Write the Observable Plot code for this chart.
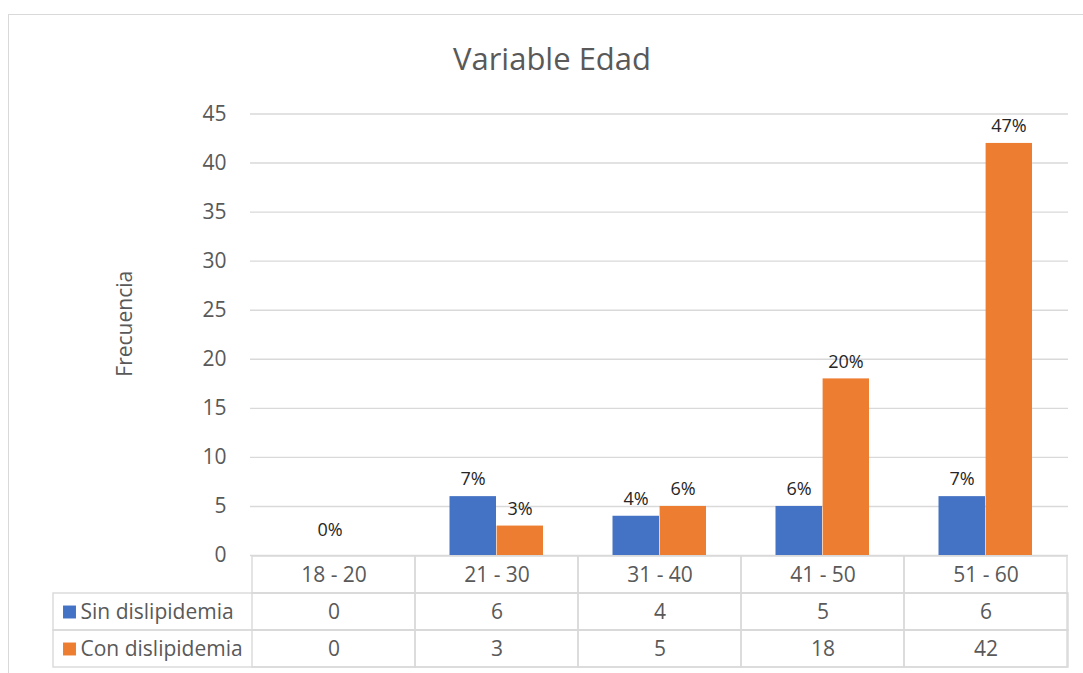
<!DOCTYPE html>
<html><head><meta charset="utf-8">
<script src="https://cdn.jsdelivr.net/npm/d3@7"></script>
<script src="https://cdn.jsdelivr.net/npm/@observablehq/plot@0.6"></script>
<style>
body{margin:0;background:#fff;font-family:"Open Sans",sans-serif;}
#wrap{position:relative;width:1083px;height:673px;overflow:hidden;background:#fff;}
#frame{position:absolute;left:8px;top:14px;width:1110px;height:720px;border:1.5px solid #d9d9d9;box-sizing:border-box;}
#title{position:absolute;left:0;width:1104px;top:38px;text-align:center;font-size:31px;color:#595959;line-height:40px;}
#main,#table{position:absolute;left:0;}
#main{top:0}
#table{top:555px}
</style></head><body>
<div id="wrap"><div id="frame"></div><div id="title">Variable Edad</div><div id="main"></div><div id="table"></div></div>
<script>
const categories = ["18 - 20", "21 - 30", "31 - 40", "41 - 50", "51 - 60"];
const seriesNames = ["Sin dislipidemia", "Con dislipidemia"];
const sinValues = [0, 6, 4, 5, 6];
const conValues = [0, 3, 5, 18, 42];
const sinLabels = ["", "7%", "4%", "6%", "7%"];
const conLabels = ["", "3%", "6%", "20%", "47%"];
const sharedLabels = ["0%", "", "", "", ""];
const yTicks = [0, 5, 10, 15, 20, 25, 30, 35, 40, 45];
const colors = ["#4472C4", "#ED7D31"];

const grey = "#d9d9d9";
const textGrey = "#595959";
const font = "'Open Sans', sans-serif";

const idx = categories.map((c, i) => i);

const main = Plot.plot({
  width: 1083, height: 556,
  marginLeft: 250, marginRight: 15, marginTop: 113.5, marginBottom: 1,
  x: {domain: categories, padding: 0, axis: null},
  y: {domain: [0, 45], axis: null},
  style: {fontFamily: font, fontSize: "21px", color: textGrey, background: "transparent", overflow: "visible"},
  marks: [
    Plot.gridY(yTicks, {stroke: grey, strokeOpacity: 1, strokeWidth: 1.4}),
    Plot.axisY(yTicks, {tickSize: 0, tickPadding: 24, fontSize: 21, fill: textGrey, label: null}),
    Plot.text(["Frecuencia"], {frameAnchor: "left", textAnchor: "middle", dx: -125, dy: -11, rotate: -90, fontSize: 21, fill: textGrey}),
    Plot.barY(idx, {x: i => categories[i], y: i => sinValues[i], fill: colors[0], insetLeft: 34.5, insetRight: 82}),
    Plot.barY(idx, {x: i => categories[i], y: i => conValues[i], fill: colors[1], insetLeft: 81.6, insetRight: 35}),
    Plot.text(idx, {x: i => categories[i], y: i => sinValues[i], text: i => sinLabels[i], dx: -24, dy: -17, fontSize: 18, fill: "#262626"}),
    Plot.text(idx, {x: i => categories[i], y: i => conValues[i], text: i => conLabels[i], dx: 23, dy: -17, fontSize: 18, fill: "#262626"}),
    Plot.text(idx, {x: i => categories[i], y: i => Math.max(sinValues[i], conValues[i]), text: i => sharedLabels[i], dx: -4, dy: -25, fontSize: 18, fill: "#262626"})
  ]
});
document.getElementById("main").appendChild(main);

const rows = ["cat", "sin", "con"];
const legendRows = [{row: "sin", name: seriesNames[0], color: colors[0]}, {row: "con", name: seriesNames[1], color: colors[1]}];
const cells = [];
for (const r of rows) for (const c of categories) cells.push({row: r, cat: c});

const table = Plot.plot({
  width: 1083, height: 114,
  marginLeft: 250, marginRight: 15, marginTop: 0, marginBottom: 1,
  x: {domain: categories, padding: 0, axis: null},
  y: {domain: rows, padding: 0, axis: null},
  style: {fontFamily: font, fontSize: "21px", color: textGrey, background: "transparent", overflow: "visible"},
  marks: [
    Plot.cell(legendRows, {y: "row", stroke: grey, strokeWidth: 1.4, fill: "none", insetLeft: -197}),
    Plot.cell(cells, {x: "cat", y: "row", stroke: grey, strokeWidth: 1.4, fill: "none"}),
    Plot.dot(legendRows, {y: "row", frameAnchor: "left", dx: -181, symbol: "square", r: 7.3, fill: "color", stroke: null}),
    Plot.text(legendRows, {y: "row", frameAnchor: "left", dx: -170, text: "name", textAnchor: "start", fontSize: 21, fill: textGrey}),
    Plot.text(categories, {x: d => d, y: () => "cat", text: d => d, fontSize: 21, fill: textGrey}),
    Plot.text(idx, {x: i => categories[i], y: () => "sin", text: i => String(sinValues[i]), fontSize: 21, fill: textGrey}),
    Plot.text(idx, {x: i => categories[i], y: () => "con", text: i => String(conValues[i]), fontSize: 21, fill: textGrey})
  ]
});
document.getElementById("table").appendChild(table);
</script>
</body></html>
